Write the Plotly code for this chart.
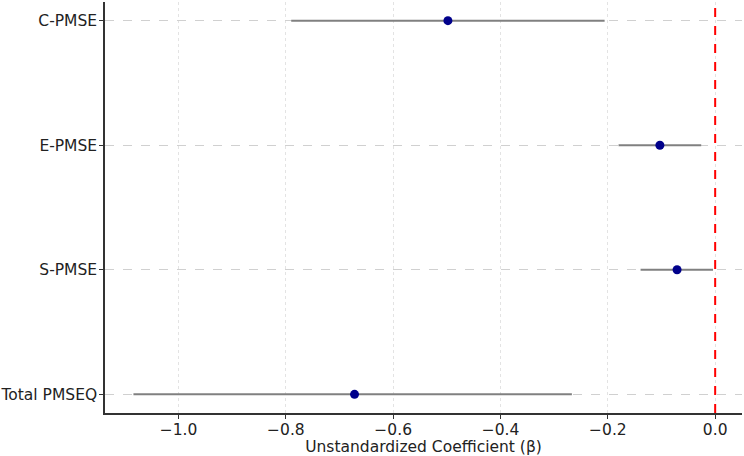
import plotly.graph_objects as go

predictors = ["Total PMSEQ", "S-PMSE", "E-PMSE", "C-PMSE"]
beta = [-0.672, -0.071, -0.103, -0.498]
ci_low = [-1.084, -0.139, -0.180, -0.790]
ci_high = [-0.267, -0.004, -0.026, -0.206]

err_minus = [b - lo for b, lo in zip(beta, ci_low)]
err_plus = [hi - b for b, hi in zip(beta, ci_high)]

font = "DejaVu Sans"
fig = go.Figure()

fig.add_trace(go.Scatter(
    x=beta, y=predictors, mode="markers",
    marker=dict(size=9, color="#00008b"),
    error_x=dict(type="data", symmetric=False, array=err_plus, arrayminus=err_minus,
                 color="#808080", thickness=2, width=0),
    showlegend=False))

fig.add_vline(x=0, line=dict(color="red", width=2, dash="dash"))

fig.update_layout(
    width=744, height=456,
    margin=dict(l=105, r=2, t=2, b=43),
    plot_bgcolor="white", paper_bgcolor="white",
    font=dict(family=font, size=15.5, color="#222"),
    xaxis=dict(
        range=[-1.137, 0.050], tickvals=[-1.0, -0.8, -0.6, -0.4, -0.2, 0.0],
        ticktext=["\u22121.0", "\u22120.8", "\u22120.6", "\u22120.4", "\u22120.2", "0.0"],
        showgrid=True, gridcolor="#e3e3e3", griddash="dot", gridwidth=1,
        zeroline=False, showline=True, linecolor="#333", linewidth=1.5,
        ticks="outside", ticklen=4, tickcolor="#333", tickfont=dict(size=15.5),
        automargin=False, ticklabelstandoff=-2,
        title=dict(text="Unstandardized Coefficient (\u03b2)", standoff=0, font=dict(size=15.5))),
    yaxis=dict(
        type="category", categoryorder="array", categoryarray=predictors,
        range=[-0.15, 3.15],
        showgrid=True, gridcolor="#d0d0d0", griddash="dash", gridwidth=1,
        zeroline=False, showline=True, linecolor="#333", linewidth=1.5,
        ticks="outside", ticklen=4, tickcolor="#333", tickfont=dict(size=15.5),
        automargin=False, ticklabelstandoff=-1),
)

fig.write_html("out.html", config={"displayModeBar": False},
               post_script="document.body.style.margin='0';")
